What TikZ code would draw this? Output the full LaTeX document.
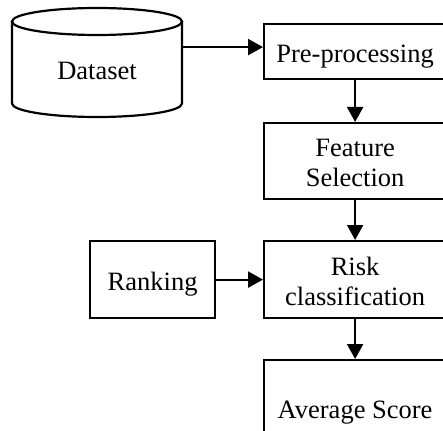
\documentclass[tikz,border=0pt]{standalone}
\usepackage{fontspec}
\setmainfont{Liberation Serif}
\usetikzlibrary{arrows.meta}
\begin{document}
\begin{tikzpicture}[x=1pt,y=-1pt,
  line width=2.2pt,
  every node/.style={font=\fontsize{26.5pt}{30pt}\selectfont, inner sep=0pt},
  stepbox/.style={draw, rectangle, anchor=north west, minimum width=182pt, align=center, text height=21pt, text depth=0pt},
  twoline/.style={text height=51pt},
  arr/.style={-{Triangle[length=15pt,width=16pt]}}]
\useasboundingbox (0,0) rectangle (443,430);
\clip (0,0) rectangle (443,430);
% cylinder
\draw (97,21.5) ellipse [x radius=85pt, y radius=13.5pt];
\draw (12,21.5) -- (12,103.5) arc [start angle=180, end angle=360, x radius=85pt, y radius=13.5pt] -- (182,21.5);
\node[minimum width=170pt, text height=21pt, text depth=0pt] (ds) at (97,69.5) {Dataset};
% boxes
\node[stepbox, minimum height=55pt] (pre) at (263,23) {Pre-processing};
\node[stepbox, twoline, minimum height=76pt] (feat) at (263,122) {Feature\\Selection};
\node[stepbox, twoline, minimum height=77pt] (risk) at (263,240) {Risk\\classification};
\node[stepbox, minimum height=95pt] (avg) at (263,359) {Average Score};
\node[draw, rectangle, anchor=north west, minimum width=125pt, minimum height=77pt, text height=21pt, text depth=0pt] (rank) at (89,240) {Ranking};
% connectors
\coordinate (apre) at ([yshift=4.5pt]pre.west);
\draw[arr] (ds.east |- apre) -- (apre);
\draw[arr] (pre.south) -- (feat.north);
\draw[arr] (feat.south) -- (risk.north);
\draw[arr] (risk.south) -- (avg.north);
\draw[arr] (rank.east) -- (risk.west);
\end{tikzpicture}
\end{document}
